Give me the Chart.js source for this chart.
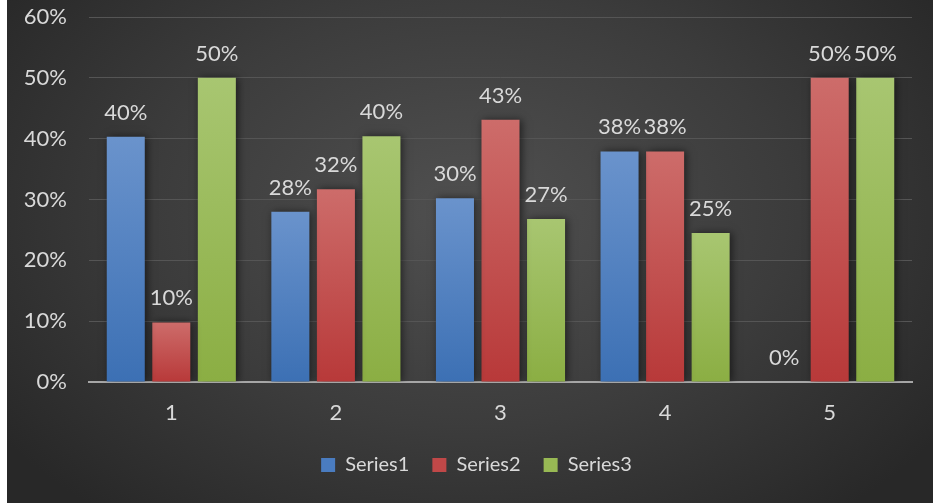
<!DOCTYPE html>
<html>
<head>
<meta charset="utf-8">
<script src="https://cdn.jsdelivr.net/npm/chart.js@4.4.1/dist/chart.umd.min.js"></script>
<style>
  html, body { margin: 0; padding: 0; background: #fff; }
  #wrap {
    position: absolute; left: 7px; top: 0; width: 926px; height: 503px;
    background: radial-gradient(ellipse 62% 78% at 50% 42%, #505050 0%, #3c3c3c 55%, #282828 100%);
  }
</style>
</head>
<body>
<div id="wrap"><canvas id="chart"></canvas></div>
<script>
const categories = ["1", "2", "3", "4", "5"];
const series1 = [40.3, 28, 30.2, 37.9, 0];
const series2 = [9.8, 31.7, 43.1, 37.9, 50];
const series3 = [50, 40.4, 26.8, 24.5, 50];
const seriesNames = ["Series1", "Series2", "Series3"];

const palette = [
  { top: "#6a93cc", bottom: "#3c70b4", key: "#4a7cc0" },
  { top: "#cd6c6a", bottom: "#b83939", key: "#c04848" },
  { top: "#a8c671", bottom: "#8bae43", key: "#98b954" }
];

// each bar gets its own light-to-dark vertical gradient
function barFill(i) {
  return function (context) {
    const chart = context.chart;
    const area = chart.chartArea;
    const y = chart.scales.y;
    if (!area || !y || context.type !== "data") return palette[i].key;
    const top = y.getPixelForValue(context.raw);
    const g = chart.ctx.createLinearGradient(0, top, 0, area.bottom);
    g.addColorStop(0, palette[i].top);
    g.addColorStop(1, palette[i].bottom);
    return g;
  };
}

const barDecor = {
  id: "barDecor",
  afterLayout(chart) {
    // legend in the original is centred a bit right of the canvas middle
    chart.legend.left += 17;
    chart.legend.right += 17;
  },
  beforeDatasetDraw(chart) {
    const ctx = chart.ctx;
    ctx.save();
    ctx.shadowColor = "rgba(0,0,0,0.55)";
    ctx.shadowBlur = 8;
    ctx.shadowOffsetX = 2;
    ctx.shadowOffsetY = 0;
  },
  afterDatasetDraw(chart) {
    chart.ctx.restore();
  },
  afterDatasetsDraw(chart) {
    const ctx = chart.ctx;
    ctx.save();
    ctx.font = "22px Lato";
    ctx.fillStyle = "#d9d9d9";
    ctx.textAlign = "center";
    ctx.textBaseline = "alphabetic";
    chart.data.datasets.forEach((ds, di) => {
      chart.getDatasetMeta(di).data.forEach((bar, i) => {
        ctx.fillText(Math.round(ds.data[i]) + "%", bar.x, bar.y - 17);
      });
    });
    ctx.restore();
  }
};

const tickFont = { family: "Lato", size: 22 };

new Chart(document.getElementById("chart"), {
  type: "bar",
  data: {
    labels: categories,
    datasets: [series1, series2, series3].map((d, i) => ({
      label: seriesNames[i],
      data: d,
      backgroundColor: barFill(i),
      borderWidth: 0,
      categoryPercentage: 0.83,
      barPercentage: 0.835
    }))
  },
  options: {
    responsive: true,
    maintainAspectRatio: false,
    animation: false,
    layout: { padding: { top: 17, right: 21, bottom: 18, left: 0 } },
    plugins: {
      legend: {
        position: "bottom",
        labels: {
          color: "#d9d9d9",
          font: { family: "Lato", size: 20 },
          boxWidth: 14,
          boxHeight: 14,
          padding: 23,
          generateLabels(chart) {
            return chart.data.datasets.map((ds, i) => ({
              text: ds.label,
              fillStyle: palette[i].key,
              strokeStyle: palette[i].key,
              lineWidth: 0,
              fontColor: "#d9d9d9",
              datasetIndex: i
            }));
          }
        }
      },
      tooltip: { enabled: false }
    },
    scales: {
      x: {
        afterFit(scale) { scale.height = 50; },
        grid: { display: false, drawTicks: false },
        border: { display: true, color: "#a6a6a6", width: 2 },
        ticks: { color: "#d9d9d9", font: tickFont, padding: 18 }
      },
      y: {
        min: 0,
        max: 60,
        afterFit(scale) {
          scale.width = 82;
          scale.paddingTop = 0;
          scale.paddingBottom = 0;
        },
        grid: { color: "#555555", lineWidth: 1, drawTicks: false },
        border: { display: false },
        ticks: {
          stepSize: 10,
          color: "#d9d9d9",
          font: tickFont,
          padding: 22,
          callback: v => v + "%"
        }
      }
    }
  },
  plugins: [barDecor]
});
</script>
</body>
</html>
